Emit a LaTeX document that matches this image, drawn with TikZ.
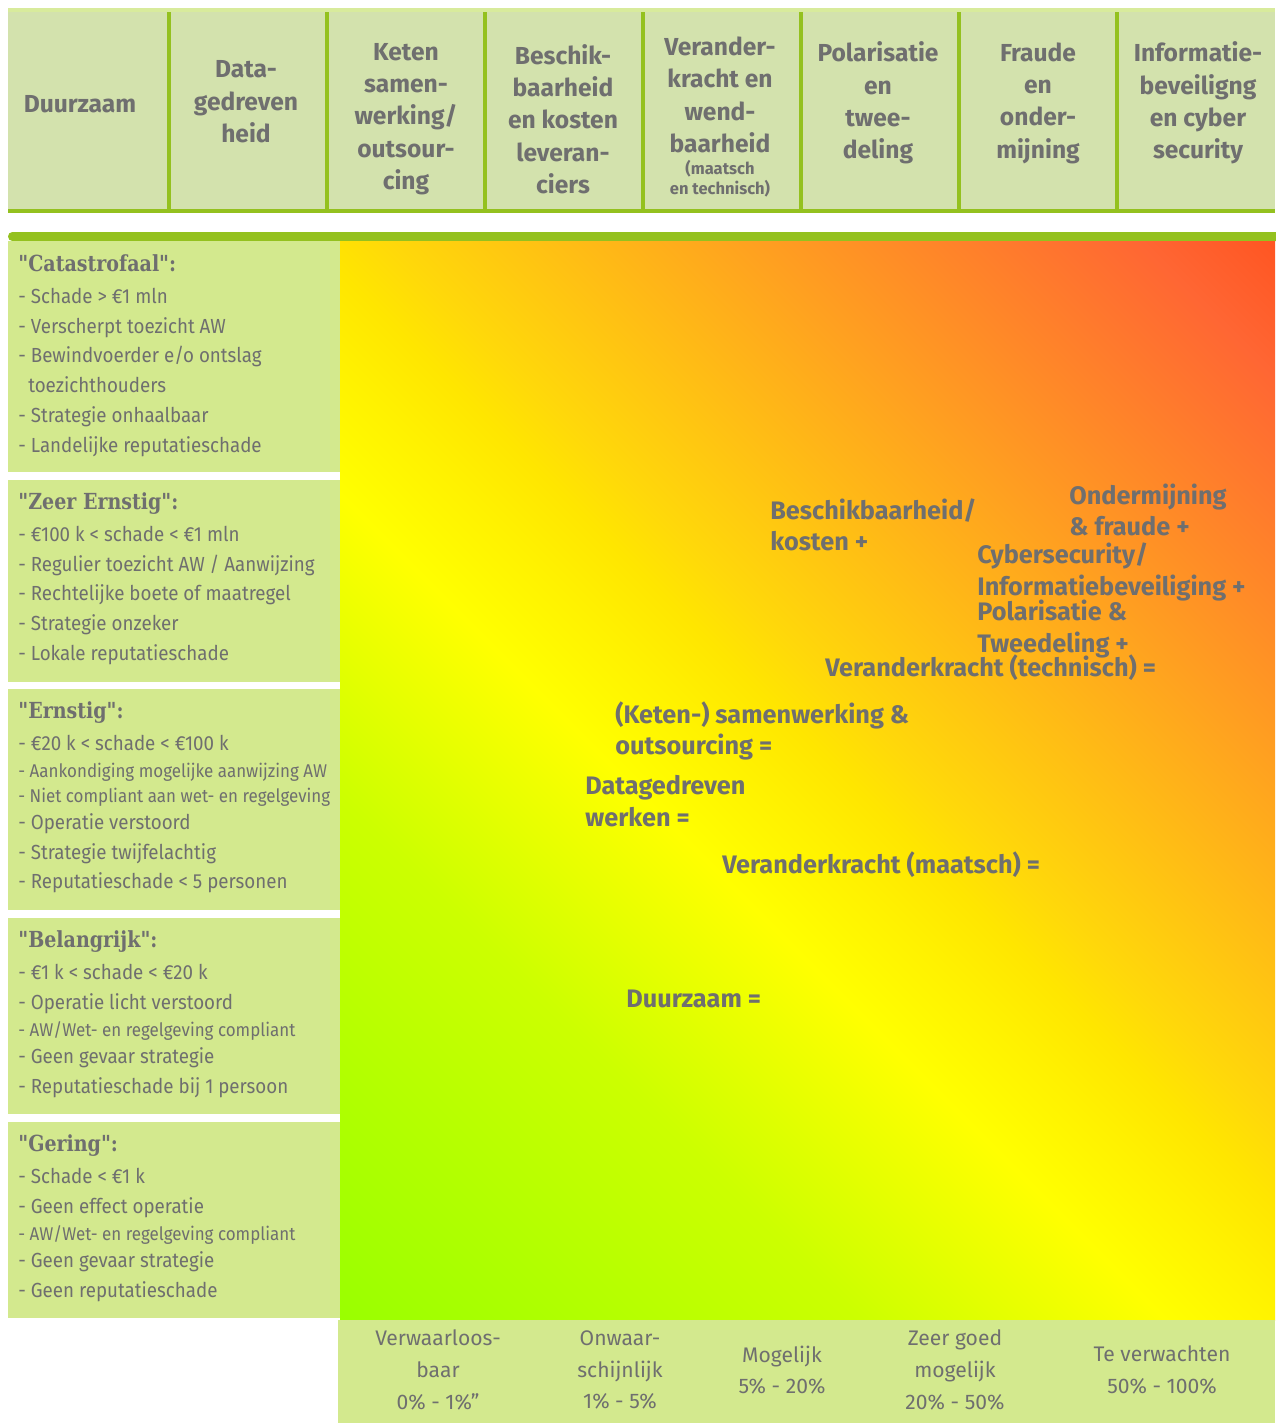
\documentclass[tikz,border=0pt]{standalone}
\usepackage{fontspec}
\setmainfont{Fira Sans}
\newfontfamily\listfont[FakeStretch=0.92]{Fira Sans}
\newfontfamily\slabfont[FakeStretch=0.86]{DejaVu Serif}
\usetikzlibrary{positioning}

\definecolor{headfill}{HTML}{D3E2AD}
\definecolor{boxfill}{HTML}{D3E98E}
\definecolor{limeline}{HTML}{94C11F}
\definecolor{topline}{HTML}{D8EB9C}
\definecolor{labelgray}{HTML}{6F6F6F}
\definecolor{riskgreen}{HTML}{99FF00}
\definecolor{risklime}{HTML}{CCFF00}
\definecolor{riskyellow}{HTML}{FFFF00}
\definecolor{riskgold}{HTML}{FFF000}
\definecolor{riskamber}{HTML}{FFE600}
\definecolor{risksaffron}{HTML}{FFD80A}
\definecolor{riskorange}{HTML}{FFA020}
\definecolor{riskcoral}{HTML}{FF6633}
\definecolor{riskred}{HTML}{FF5522}

% 25bp..75bp runs across the (rotated) square
\pgfdeclarehorizontalshading{riskmap}{100bp}{color(0bp)=(riskgreen); color(25bp)=(riskgreen); color(38bp)=(risklime); color(45.5bp)=(riskyellow); color(49bp)=(riskgold); color(51bp)=(riskamber); color(53bp)=(risksaffron); color(62bp)=(riskorange); color(71.6bp)=(riskcoral); color(75bp)=(riskred); color(100bp)=(riskred)}

\tikzset{
  headtxt/.style={align=center, inner sep=0pt, text=labelgray,
    font=\bfseries\fontsize{14pt}{18.4pt}\selectfont},
  listtxt/.style={align=left, anchor=north west, inner sep=0pt, text=labelgray,
    font=\listfont\fontsize{11.6pt}{17pt}\selectfont},
  risklabel/.style={align=left, anchor=west, inner sep=0pt, text=labelgray,
    font=\bfseries\fontsize{14.4pt}{17.8pt}\selectfont},
  kanstxt/.style={align=center, inner sep=0pt, text=labelgray,
    font=\fontsize{12pt}{18.1pt}\selectfont}
}
\newcommand{\boxtitle}[1]{{\slabfont\bfseries\fontsize{12.6pt}{17pt}\selectfont"#1":}}
\newcommand{\smallitem}[1]{{\fontsize{10.5pt}{17pt}\selectfont #1}}
\newcommand{\smallhead}[1]{{\fontsize{9.4pt}{11.4pt}\selectfont #1}}

\begin{document}
\begin{tikzpicture}[x=0.02cm, y=-0.02cm]
\useasboundingbox (0,0) rectangle (1275,1423);

% header row
\fill[headfill] (8,12) rectangle (1275,211);
\fill[topline] (8,8) rectangle (1275,12);
\fill[limeline] (8,209) rectangle (1275,213);
\foreach \x in {169,327,485,643,801,959,1117}
    \fill[limeline] (\x-2,12) rectangle (\x+2,211);

\begin{scope}[every node/.style={headtxt}]
    \node (hduur) at (80,104) {Duurzaam};
    \node (hdata) at (246,102) {Data-\\gedreven\\heid};
    \node (hketen) at (406,119) {Keten\\samen-\\werking/\\outsour-\\cing};
    \node (hbeschik) at (563,119) {Beschik-\\baarheid\\en kosten\\leveran-\\ciers};
    \node (hverander) at (720,117) {Verander-\\kracht en\\wend-\\baarheid\\[-6pt]
        \smallhead{(maatsch}\\[-7pt]\smallhead{en technisch)}};
    \node (hpolar) at (878,103) {Polarisatie\\en\\twee-\\deling};
    \node (hfraude) at (1038,103) {Fraude\\en\\onder-\\mijning};
    \node (hinfo) at (1198,103) {Informatie-\\beveiligng\\en cyber\\security};
\end{scope}

% bar and risk matrix
\fill[limeline, rounded corners=2.5pt] (8,232) rectangle (1290,241);
\begin{scope}
    \clip (340,241) rectangle (1275,1320);
    \begin{scope}[transform canvas={rotate around={45:(807.5,780.5)}}]
        \shade[shading=riskmap] (93.5,66.5) rectangle (1521.5,1494.5);
    \end{scope}
\end{scope}
\fill[boxfill] (338,1320) rectangle (1275,1423);

% impact boxes
\fill[boxfill] (8,241) rectangle (340,472);
\fill[boxfill] (8,480) rectangle (340,682);
\fill[boxfill] (8,689) rectangle (340,910);
\fill[boxfill] (8,918) rectangle (340,1114);
\fill[boxfill] (8,1122) rectangle (340,1318);

\begin{scope}[every node/.style={listtxt}]
    \node (catlist) at (18,254) {\boxtitle{Catastrofaal}\\[1.2pt]
        - Schade > €1 mln\\
        - Verscherpt toezicht AW\\
        - Bewindvoerder e/o ontslag\\
        \ \ toezichthouders\\
        - Strategie onhaalbaar\\
        - Landelijke reputatieschade};
    \node (zeerlist) at (18,492) {\boxtitle{Zeer Ernstig}\\[1.2pt]
        - €100 k < schade < €1 mln\\
        - Regulier toezicht AW / Aanwijzing\\
        - Rechtelijke boete of maatregel\\
        - Strategie onzeker\\
        - Lokale reputatieschade};
    \node (ernlist) at (18,701) {\boxtitle{Ernstig}\\[1.2pt]
        - €20 k < schade < €100 k\\[-1.6pt]
        \smallitem{- Aankondiging mogelijke aanwijzing AW}\\[-2.8pt]
        \smallitem{- Niet compliant aan wet- en regelgeving}\\[-1.6pt]
        - Operatie verstoord\\
        - Strategie twijfelachtig\\
        - Reputatieschade < 5 personen};
    \node (bellist) at (18,930) {\boxtitle{Belangrijk}\\[1.2pt]
        - €1 k < schade < €20 k\\
        - Operatie licht verstoord\\[-1.6pt]
        \smallitem{- AW/Wet- en regelgeving compliant}\\[-1.6pt]
        - Geen gevaar strategie\\
        - Reputatieschade bij 1 persoon};
    \node (gerlist) at (18,1134) {\boxtitle{Gering}\\[1.2pt]
        - Schade < €1 k\\
        - Geen effect operatie\\[-1.6pt]
        \smallitem{- AW/Wet- en regelgeving compliant}\\[-1.6pt]
        - Geen gevaar strategie\\
        - Geen reputatieschade};
\end{scope}

% risks placed in the matrix
\begin{scope}[every node/.style={risklabel}]
    \node (rbeschik) at (770,525) {Beschikbaarheid/\\kosten +};
    \node (rfraude) at (1069,510) {Ondermijning\\\& fraude +};
    \node (rcyber) at (977,572) {Cybersecurity/\\Informatiebeveiliging +};
    \node (rpolar) at (977,629) {Polarisatie \&\\Tweedeling +};
    \node (rtech) at (825,668) {Veranderkracht (technisch) =};
    \node (rketen) at (615,731) {(Keten-) samenwerking \&\\outsourcing =};
    \node (rdata) at (585,801) {Datagedreven\\werken =};
    \node (rmaatsch) at (722,865) {Veranderkracht (maatsch) =};
    \node (rduur) at (626,999) {Duurzaam =};
\end{scope}

% likelihood row
\begin{scope}[every node/.style={kanstxt}]
    \node (kverw) at (438,1370) {Verwaarloos-\\baar\\0\% - 1\%"};
    \node (konw) at (620,1370) {Onwaar-\\schijnlijk\\1\% - 5\%};
    \node (kmog) at (782,1370) {Mogelijk\\5\% - 20\%};
    \node (kzeer) at (955,1370) {Zeer goed\\mogelijk\\20\% - 50\%};
    \node (kte) at (1162,1370) {Te verwachten\\50\% - 100\%};
\end{scope}
\end{tikzpicture}
\end{document}
